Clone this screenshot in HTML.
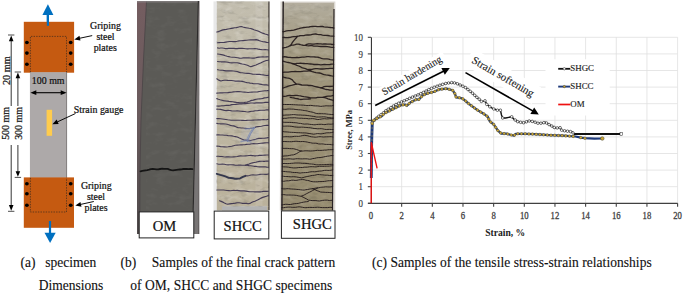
<!DOCTYPE html>
<html><head><meta charset="utf-8"><style>
html,body{margin:0;padding:0;background:#fff;}
body{width:685px;height:294px;overflow:hidden;font-family:"Liberation Serif",serif;}
svg{display:block;}
</style></head><body>
<svg width="685" height="294" viewBox="0 0 685 294">
<rect width="685" height="294" fill="#fff"/>
<defs><linearGradient id="mv" x1="0" y1="0" x2="0" y2="1"><stop offset="0" stop-color="#745d60"/><stop offset="0.5" stop-color="#6a5b5d"/><stop offset="1" stop-color="#4f4a4b"/></linearGradient></defs><polygon points="137,1 199.3,1 199.3,234 137,234" fill="url(#mv)"/><polygon points="146.5,1 198.6,1 192.6,234 139.8,234 140,170 141,120 143.5,60" fill="#5b5a56"/><polyline points="146.5,1 143.5,60 141,120 140,170 139.8,234" fill="none" stroke="#4a4446" stroke-width="0.8"/><rect x="137" y="1" width="62" height="1.5" fill="#8a8488" opacity="0.7"/><line x1="198.4" y1="1" x2="192.6" y2="234" stroke="#2d2b2b" stroke-width="1.2"/><polygon points="198.9,1 199.4,1 198.5,234 193.2,234" fill="#787575"/><defs><filter id="tx" x="0" y="0" width="1" height="1" filterUnits="objectBoundingBox"><feTurbulence type="fractalNoise" baseFrequency="0.09 0.18" numOctaves="3" seed="5"/><feColorMatrix type="matrix" values="0 0 0 0 1  0 0 0 0 1  0 0 0 0 1  1.6 0 0 0 -0.75"/></filter><filter id="tx2" x="0" y="0" width="1" height="1" filterUnits="objectBoundingBox"><feTurbulence type="fractalNoise" baseFrequency="0.1 0.2" numOctaves="3" seed="11"/><feColorMatrix type="matrix" values="0 0 0 0 0  0 0 0 0 0  0 0 0 0 0  -1.6 0 0 0 0.75"/></filter></defs><rect x="146" y="2" width="46" height="230" filter="url(#tx)" opacity="0.063"/><path d="M140.5,171.3 L142.2,170.9 L143.9,170.6 L145.6,170.3 L147.3,170.1 L149.1,169.7 L150.9,169.2 L152.7,168.9 L154.6,169.1 L156.4,169.3 L158.2,169.4 L160.1,169.0 L162.2,168.7 L164.0,168.9 L165.9,168.8 L167.7,168.9 L169.5,169.6 L171.3,170.1 L173.1,170.3 L174.8,170.1 L176.5,169.9 L178.2,169.7 L179.9,169.5 L181.6,169.3 L183.3,169.0 L185.0,168.9 L186.7,169.0 L188.6,169.1 L190.6,169.0 L192.5,169.1" stroke="#151515" stroke-width="1.8" fill="none" stroke-linejoin="round" stroke-linecap="round" opacity="1"/><rect x="213.5" y="1.4" width="56" height="209" fill="#e8e8e8"/><defs><linearGradient id="sc" x1="0" y1="0" x2="0" y2="1"><stop offset="0" stop-color="#c2bdae"/><stop offset="0.5" stop-color="#beb7a3"/><stop offset="1" stop-color="#bab19b"/></linearGradient></defs><rect x="216.8" y="1.4" width="52.5" height="209" fill="url(#sc)"/><rect x="222" y="206.2" width="45" height="4.2" fill="#b3b3b3"/><line x1="268.9" y1="1.4" x2="268.9" y2="210" stroke="#4a4540" stroke-width="1.3"/><rect x="216.8" y="1.4" width="52" height="205" filter="url(#tx)" opacity="0.35"/><rect x="255.5" y="1.4" width="7" height="205" fill="#fff" opacity="0.1"/><rect x="216.8" y="1.4" width="52" height="205" filter="url(#tx2)" opacity="0.21"/><path d="M216.8,32.0 L218.4,31.6 L219.9,31.0 L221.5,30.4 L223.0,29.9 L224.7,29.6 L226.3,29.4 L228.0,29.0 L229.6,28.7 L231.3,28.4 L233.0,28.1 L234.6,27.8 L236.3,27.6 L238.0,27.2 L239.6,26.8 L241.3,26.5 L242.9,27.0 L244.4,27.4 L246.0,27.7 L247.6,28.0 L249.2,28.3 L250.8,28.5 L252.4,29.1 L253.9,29.8 L255.5,30.2 L257.1,30.7 L258.6,31.3 L260.1,32.1 L261.6,32.8 L263.3,33.4 L265.1,34.0 L266.8,34.5 L268.5,35.1" stroke="#3d3550" stroke-width="1.15" fill="none" stroke-linejoin="round" stroke-linecap="round" opacity="0.95"/><path d="M217.5,42.7 L219.2,42.6 L220.9,42.5 L222.6,42.5 L224.3,42.4 L226.0,42.1 L227.7,41.8 L229.6,41.5 L231.5,41.5 L233.4,41.6 L235.3,41.6 L237.2,41.3 L239.1,40.9 L241.0,40.8 L242.9,40.6 L244.8,40.4 L246.7,40.2 L248.6,40.0 L250.5,39.8 L252.4,39.8 L254.3,39.9 L256.2,39.6 L258.0,40.1 L259.6,40.8 L261.3,41.3 L263.0,41.7 L264.8,41.9 L266.7,42.4 L268.5,42.5" stroke="#3d3550" stroke-width="1.15" fill="none" stroke-linejoin="round" stroke-linecap="round" opacity="0.95"/><path d="M217.5,47.9 L219.1,48.2 L220.7,48.0 L222.3,48.0 L223.9,48.3 L225.5,48.6 L227.2,48.6 L228.8,48.4 L230.4,48.3 L232.1,48.3 L233.8,48.4 L235.5,48.6 L237.2,48.6 L238.9,48.4 L240.6,48.3 L242.3,48.4 L244.0,48.5 L245.8,48.7 L247.6,48.9 L249.4,48.8 L251.3,48.7 L253.1,48.7 L254.9,48.6 L256.6,48.7 L258.3,49.1 L260.0,49.4 L261.7,49.6 L263.4,49.7 L265.1,49.6 L266.8,49.7 L268.5,50.0" stroke="#3d3550" stroke-width="1.15" fill="none" stroke-linejoin="round" stroke-linecap="round" opacity="0.95"/><path d="M217.5,54.0 L219.6,54.2 L221.6,54.6 L223.7,55.1 L225.4,55.7 L227.1,56.2 L228.8,56.6 L230.5,57.0 L232.2,57.2 L234.1,57.3 L235.9,57.5 L237.7,57.7 L239.5,58.1 L241.3,58.2 L243.2,57.9 L245.1,57.9 L247.0,57.9 L248.9,57.9 L250.8,58.0 L252.5,58.1 L254.1,58.1 L255.7,57.8 L257.4,57.4 L259.0,57.1 L260.9,57.0 L262.8,56.9 L264.7,57.0 L266.6,56.9 L268.5,56.8" stroke="#3d3550" stroke-width="1.15" fill="none" stroke-linejoin="round" stroke-linecap="round" opacity="0.95"/><path d="M217.5,61.5 L219.3,61.7 L221.0,61.8 L222.8,61.8 L224.6,61.9 L226.3,62.0 L228.1,62.3 L229.9,62.7 L231.7,62.9 L233.6,62.8 L235.4,62.7 L237.2,62.7 L238.9,63.1 L240.6,63.6 L242.3,64.0 L244.0,64.3 L245.7,64.7 L247.4,65.2 L249.0,66.0 L250.8,66.7 L252.6,66.1 L254.3,65.5 L256.0,65.0 L257.6,64.3 L259.3,63.5 L261.0,62.8 L262.6,62.0 L264.3,61.2 L266.3,60.5 L268.5,60.2" stroke="#3d3550" stroke-width="1.15" fill="none" stroke-linejoin="round" stroke-linecap="round" opacity="0.95"/><path d="M217.5,69.7 L219.2,70.0 L220.9,70.2 L222.6,70.3 L224.3,70.6 L226.0,70.9 L227.7,70.9 L229.6,70.8 L231.5,70.8 L233.4,71.0 L235.3,71.2 L237.2,71.5 L238.8,72.1 L240.4,72.6 L242.1,72.8 L243.7,73.0 L245.4,73.3 L247.2,73.4 L249.0,73.4 L250.8,73.7 L252.6,74.1 L254.4,74.2 L256.2,74.3 L258.0,74.3 L259.7,74.4 L261.5,74.7 L263.2,74.9 L265.0,75.2 L266.7,75.5 L268.5,75.4" stroke="#3d3550" stroke-width="1.15" fill="none" stroke-linejoin="round" stroke-linecap="round" opacity="0.95"/><path d="M216.8,78.8 L218.7,80.1 L220.9,81.0 L222.6,80.5 L224.3,80.2 L226.0,80.2 L227.7,80.4 L229.6,80.5 L231.5,80.5 L233.4,80.8 L235.3,81.1 L237.2,81.0 L238.8,81.1 L240.5,81.3 L242.2,81.4 L243.8,81.7 L245.4,82.3 L247.0,82.6 L248.5,82.8 L250.1,83.1 L251.7,83.3 L253.3,83.6 L254.9,83.8 L256.5,83.7 L258.1,83.8 L259.7,84.1 L261.3,84.4 L262.8,84.7 L264.4,84.9 L266.5,84.9 L268.5,85.2" stroke="#3d3550" stroke-width="1.15" fill="none" stroke-linejoin="round" stroke-linecap="round" opacity="0.95"/><path d="M216.8,93.1 L218.6,93.0 L220.4,92.8 L222.3,92.9 L224.1,92.8 L225.9,92.7 L227.7,92.6 L229.6,92.4 L231.5,92.2 L233.4,91.9 L235.3,91.7 L237.2,91.6 L239.0,91.6 L240.8,91.8 L242.7,92.0 L244.5,92.1 L246.3,92.3 L248.1,92.5 L250.0,92.3 L251.9,92.1 L253.8,92.0 L255.7,92.0 L257.6,91.9 L259.4,91.5 L261.2,91.2 L263.0,91.0 L264.9,90.8 L266.7,90.7 L268.5,90.4" stroke="#3d3550" stroke-width="1.15" fill="none" stroke-linejoin="round" stroke-linecap="round" opacity="0.95"/><path d="M216.8,98.6 L218.4,99.3 L220.1,99.8 L221.9,100.2 L223.6,100.6 L225.4,100.9 L227.2,101.1 L229.0,101.4 L230.9,101.6 L232.7,101.8 L234.5,102.1 L236.4,102.4 L238.3,102.5 L240.2,102.7 L242.1,102.7 L244.0,102.6 L245.6,102.3 L247.2,102.1 L248.7,101.6 L250.2,100.9 L251.7,100.4 L253.3,100.1 L254.8,99.6 L256.4,99.3 L258.0,99.0 L259.7,98.9 L261.3,98.8 L262.9,98.4 L264.4,97.9 L266.5,97.6 L268.5,97.2" stroke="#3d3550" stroke-width="1.15" fill="none" stroke-linejoin="round" stroke-linecap="round" opacity="0.95"/><path d="M216.8,106.0 L218.5,106.1 L220.2,106.0 L221.9,105.8 L223.6,105.7 L225.2,105.5 L226.9,105.3 L228.6,105.4 L230.2,105.1 L231.8,104.6 L233.7,104.5 L235.6,104.4 L237.5,104.1 L239.4,103.9 L241.3,103.9 L243.2,103.8 L245.1,103.6 L247.0,103.5 L248.9,103.3 L250.8,103.0 L252.6,103.0 L254.4,103.1 L256.2,102.9 L258.1,102.7 L259.9,102.9 L261.7,102.9 L263.4,102.7 L265.1,102.4 L266.8,102.2 L268.5,102.4" stroke="#3d3550" stroke-width="1.15" fill="none" stroke-linejoin="round" stroke-linecap="round" opacity="0.95"/><path d="M216.8,109.1 L218.7,109.2 L220.6,109.4 L222.5,109.9 L224.4,110.4 L226.3,110.6 L228.1,110.4 L229.9,110.5 L231.7,110.9 L233.6,111.0 L235.4,111.0 L237.2,110.9 L239.0,111.0 L240.8,111.3 L242.7,111.4 L244.5,111.5 L246.3,111.8 L248.1,112.0 L249.9,111.6 L251.7,111.3 L253.5,111.1 L255.4,110.8 L257.2,110.7 L259.0,110.4 L260.9,110.2 L262.8,110.2 L264.7,110.2 L266.6,109.8 L268.5,109.8" stroke="#3d3550" stroke-width="1.15" fill="none" stroke-linejoin="round" stroke-linecap="round" opacity="0.95"/><path d="M216.8,118.6 L218.6,118.6 L220.5,118.8 L222.3,119.0 L224.1,119.2 L225.9,119.5 L227.7,119.8 L229.4,120.0 L231.1,120.2 L232.8,120.2 L234.5,120.2 L236.2,120.2 L237.9,120.2 L239.6,120.2 L241.3,120.3 L243.0,120.3 L244.7,120.5 L246.4,120.4 L248.1,120.2 L249.8,120.2 L251.5,120.3 L253.2,120.1 L254.9,120.0 L256.6,120.0 L258.3,119.9 L260.0,119.9 L261.7,119.7 L263.4,119.6 L265.1,119.7 L266.8,119.6 L268.5,119.3" stroke="#3d3550" stroke-width="1.15" fill="none" stroke-linejoin="round" stroke-linecap="round" opacity="0.95"/><path d="M216.8,123.4 L218.5,123.7 L220.2,123.8 L221.9,123.8 L223.6,123.8 L225.4,124.0 L227.1,124.3 L228.7,124.8 L230.4,125.4 L232.0,125.7 L233.6,125.9 L235.1,126.4 L236.6,127.1 L238.1,127.6 L239.7,127.8 L241.3,128.0 L242.9,128.0 L244.6,128.2 L246.2,128.4 L247.8,128.5 L249.4,128.6 L251.1,128.3 L252.9,128.1 L254.6,127.6 L256.2,126.9 L258.0,126.6 L259.7,126.5 L261.5,126.2 L263.2,125.8 L265.0,125.5 L266.7,125.4 L268.5,125.4" stroke="#3d3550" stroke-width="1.15" fill="none" stroke-linejoin="round" stroke-linecap="round" opacity="0.95"/><path d="M216.8,134.9 L218.7,134.9 L220.6,135.0 L222.5,135.0 L224.4,135.2 L226.3,135.3 L228.1,135.6 L230.0,135.7 L231.8,135.9 L233.6,136.3 L235.4,136.6 L237.2,137.0 L238.9,137.8 L240.5,138.5 L242.2,139.2 L243.9,139.9 L245.7,140.1 L247.4,140.0 L249.1,140.2 L250.8,140.5 L252.4,140.0 L254.1,139.6 L255.7,139.2 L257.3,138.6 L259.0,138.4 L260.9,138.4 L262.8,138.2 L264.7,138.1 L266.6,137.9 L268.5,137.6" stroke="#3d3550" stroke-width="1.15" fill="none" stroke-linejoin="round" stroke-linecap="round" opacity="0.95"/><path d="M216.8,146.1 L218.7,146.3 L220.6,146.6 L222.5,146.8 L224.4,146.9 L226.3,147.0 L228.1,146.8 L230.0,146.5 L231.8,146.2 L233.5,145.7 L235.3,145.3 L237.2,145.1 L239.0,145.0 L240.8,144.8 L242.7,144.8 L244.5,144.7 L246.3,144.4 L248.1,144.2 L249.9,144.1 L251.7,143.8 L253.5,143.6 L255.4,143.7 L257.2,143.7 L259.0,143.5 L260.9,143.3 L262.8,143.1 L264.7,142.9 L266.6,142.8 L268.5,142.7" stroke="#3d3550" stroke-width="1.15" fill="none" stroke-linejoin="round" stroke-linecap="round" opacity="0.95"/><path d="M216.8,156.3 L218.5,156.2 L220.2,156.5 L221.9,156.5 L223.6,156.8 L225.3,157.0 L227.0,156.9 L228.7,156.9 L230.4,157.0 L232.1,157.0 L233.8,156.9 L235.5,156.8 L237.2,156.5 L238.9,156.1 L240.6,155.9 L242.3,156.0 L244.0,156.0 L245.7,155.9 L247.4,155.8 L249.1,155.5 L250.8,155.4 L252.5,155.6 L254.2,155.8 L255.9,155.8 L257.6,155.7 L259.4,155.4 L261.2,155.4 L263.0,155.3 L264.9,155.1 L266.7,155.0 L268.5,155.0" stroke="#3d3550" stroke-width="1.15" fill="none" stroke-linejoin="round" stroke-linecap="round" opacity="0.95"/><path d="M216.8,163.8 L218.7,164.2 L220.6,164.3 L222.5,164.1 L224.4,164.3 L226.3,164.7 L228.1,164.9 L229.9,164.8 L231.8,164.7 L233.6,164.9 L235.4,165.2 L237.2,165.2 L238.8,165.1 L240.5,165.1 L242.1,165.2 L243.8,165.3 L245.4,165.2 L247.2,164.6 L249.1,164.0 L250.9,163.3 L252.5,162.9 L254.2,162.5 L255.9,162.2 L257.6,161.8 L259.4,161.4 L261.2,161.2 L263.0,161.3 L264.9,161.3 L266.7,161.0 L268.5,161.1" stroke="#3d3550" stroke-width="1.15" fill="none" stroke-linejoin="round" stroke-linecap="round" opacity="0.95"/><path d="M245.4,165.2 L247.1,165.3 L248.9,165.6 L250.6,165.7 L252.4,166.0 L254.1,166.3 L255.9,166.3 L257.6,166.7 L259.4,166.9 L261.2,166.9 L263.1,166.8 L264.9,166.8 L266.7,167.1 L268.5,167.2" stroke="#3d3550" stroke-width="1.15" fill="none" stroke-linejoin="round" stroke-linecap="round" opacity="0.95"/><path d="M216.8,190.0 L218.5,190.0 L220.2,190.0 L221.9,190.0 L223.6,190.0 L225.3,190.2 L227.0,190.5 L228.7,190.6 L230.4,190.7 L232.1,190.5 L233.8,190.4 L235.5,190.5 L237.2,190.4 L238.9,190.6 L240.6,190.9 L242.3,190.9 L244.0,190.9 L245.8,191.1 L247.6,191.4 L249.4,191.6 L251.2,191.7 L253.1,191.8 L254.9,191.9 L256.6,191.9 L258.3,191.9 L260.0,191.9 L261.7,191.7 L263.4,191.4 L265.1,191.3 L266.8,191.4 L268.5,191.3" stroke="#3d3550" stroke-width="1.15" fill="none" stroke-linejoin="round" stroke-linecap="round" opacity="0.95"/><path d="M219.5,200.8 L221.2,201.4 L222.8,202.1 L224.4,203.0 L226.0,203.7 L227.7,204.2 L229.6,203.9 L231.5,203.6 L233.4,203.4 L235.3,203.1 L237.2,202.7 L239.0,202.7 L240.8,203.0 L242.6,203.4 L244.5,203.4 L246.3,203.4 L248.1,203.8 L249.9,203.4 L251.5,202.6 L253.1,201.8 L254.8,201.2 L256.4,200.5 L258.0,199.7 L259.5,198.9 L261.1,198.1 L262.7,197.4 L264.4,196.9 L266.5,196.3 L268.5,195.4" stroke="#3d3550" stroke-width="1.15" fill="none" stroke-linejoin="round" stroke-linecap="round" opacity="0.95"/><path d="M216.8,173.8 L218.5,174.3 L220.3,174.9 L222.0,175.4 L223.7,175.9 L225.4,176.4 L227.1,177.1 L228.7,177.9 L230.8,178.0 L232.9,178.3 L235.0,178.7 L236.7,178.8 L238.3,178.6 L239.9,178.5 L241.4,177.7 L242.9,176.9 L245.5,175.8" stroke="#262a44" stroke-width="1.9" fill="none" stroke-linejoin="round" stroke-linecap="round" opacity="0.9"/><path d="M245.5,175.8 L247.4,175.9 L249.3,175.5 L251.1,175.0 L253.0,174.7 L254.8,175.0 L256.5,175.0 L258.3,174.7 L260.0,174.4 L261.7,174.2 L263.4,174.2 L265.1,174.4 L266.8,174.4 L268.5,174.0" stroke="#3d3550" stroke-width="1.1" fill="none" stroke-linejoin="round" stroke-linecap="round" opacity="0.9"/><ellipse cx="250" cy="134" rx="9" ry="10" fill="#a9b1c9" opacity="0.15"/><path d="M254.5,127.7 L250.5,134.0 L247.3,141.5" stroke="#7585b0" stroke-width="1.1" fill="none" stroke-linejoin="round" stroke-linecap="round" opacity="0.85"/><path d="M253.0,128.2 L249.5,133.5 L246.8,139.4" stroke="#7d8fb8" stroke-width="1.0" fill="none" stroke-linejoin="round" stroke-linecap="round" opacity="0.8"/><path d="M245.3,129.2 L250.0,128.5 L254.5,127.7" stroke="#7d8fb8" stroke-width="1.0" fill="none" stroke-linejoin="round" stroke-linecap="round" opacity="0.7"/><path d="M241.0,141.5 L246.0,140.5 L251.0,142.0" stroke="#6a7aa8" stroke-width="1.3" fill="none" stroke-linejoin="round" stroke-linecap="round" opacity="0.6"/><polygon points="280.5,1.5 335.4,1.5 335.3,210.5 279.8,210.5" fill="#dcd8d2"/><defs><linearGradient id="gg" x1="0" y1="0" x2="0" y2="1"><stop offset="0" stop-color="#b3ad9e"/><stop offset="0.1" stop-color="#aaa38f"/><stop offset="0.3" stop-color="#a0977d"/><stop offset="0.6" stop-color="#9a9075"/><stop offset="1" stop-color="#968c70"/></linearGradient></defs><polygon points="283.2,2.8 334.0,2.8 332.5,210.5 281.9,210.5" fill="url(#gg)"/><line x1="283.2" y1="1.4" x2="281.9" y2="210.5" stroke="#2a2424" stroke-width="1.5"/><line x1="334.0" y1="9" x2="332.5" y2="210.5" stroke="#2a2424" stroke-width="1.2"/><rect x="283.5" y="3" width="48.5" height="207" filter="url(#tx)" opacity="0.21"/><rect x="283.5" y="3" width="48.5" height="207" filter="url(#tx2)" opacity="0.175"/><path d="M283.0,31.7 L284.8,31.4 L286.6,30.9 L288.4,30.7 L290.2,30.7 L291.9,30.4 L293.7,30.1 L295.4,29.6 L297.0,29.1 L298.7,28.7 L300.4,28.2 L302.1,27.8 L303.8,27.5 L305.5,27.3 L307.2,27.1 L308.9,27.0 L310.6,26.7 L312.3,26.5 L314.0,26.3 L315.7,26.4 L317.4,26.7 L319.1,26.6 L320.8,26.4 L322.5,26.5 L324.1,26.9 L325.7,27.1 L327.3,27.2 L328.9,27.3 L330.6,27.5 L332.2,27.6 L333.8,28.0" stroke="#261c1e" stroke-width="1.3" fill="none" stroke-linejoin="round" stroke-linecap="round" opacity="0.95"/><path d="M283.0,37.3 L284.8,37.5 L286.6,37.6 L288.4,37.5 L290.2,37.3 L291.9,36.9 L293.7,36.7 L295.6,36.7 L297.3,36.5 L298.9,36.0 L300.5,35.6 L302.2,35.6 L303.9,35.6 L305.5,35.2 L307.2,35.0 L308.9,35.0 L310.6,34.9 L312.3,34.4 L314.0,34.1 L315.7,34.0 L317.4,34.4 L319.1,34.6 L320.8,34.7 L322.5,35.1 L324.2,35.3 L325.9,35.3 L327.9,35.5 L329.8,35.9 L331.8,36.1 L333.8,36.2" stroke="#261c1e" stroke-width="1.3" fill="none" stroke-linejoin="round" stroke-linecap="round" opacity="0.95"/><path d="M297.3,36.3 L296.4,37.7 L295.3,38.8 L294.2,40.1 L293.2,41.3 L292.2,42.7 L291.4,44.3 L290.3,45.7 L288.2,46.6 L286.0,47.4 L284.5,47.6 L282.9,48.0" stroke="#261c1e" stroke-width="1.3" fill="none" stroke-linejoin="round" stroke-linecap="round" opacity="0.95"/><path d="M290.2,45.5 L291.8,45.2 L293.5,45.1 L295.1,44.7 L296.7,44.2 L298.4,44.1 L300.1,44.5 L301.8,45.0 L303.5,45.3 L305.2,45.4 L306.9,45.7 L308.6,45.8 L310.3,45.6 L312.1,45.7 L313.8,46.1 L315.6,46.2 L317.3,46.1 L319.1,46.3 L320.8,46.5 L322.4,46.5 L324.0,46.5 L325.7,46.5 L327.3,46.6 L328.9,46.8 L330.5,47.2 L332.1,47.4 L333.7,47.4" stroke="#261c1e" stroke-width="1.3" fill="none" stroke-linejoin="round" stroke-linecap="round" opacity="0.95"/><path d="M306.0,44.6 L308.6,43.8 L310.3,43.8 L312.1,44.1 L313.8,44.1 L315.6,43.8 L317.3,43.7 L319.1,43.8 L320.8,43.9 L322.4,44.1 L324.0,44.0 L325.6,44.0 L327.2,44.2 L328.9,44.1 L330.5,44.2 L332.1,44.5 L333.7,44.4" stroke="#261c1e" stroke-width="1.3" fill="none" stroke-linejoin="round" stroke-linecap="round" opacity="0.95"/><path d="M282.8,57.0 L284.6,56.7 L286.4,57.0 L288.2,57.3 L290.0,57.4 L291.7,57.6 L293.5,57.7 L295.3,57.6 L297.0,57.5 L298.7,57.6 L300.4,57.4 L302.1,57.2 L303.8,57.1 L305.5,56.9 L307.1,56.6 L308.8,56.6 L310.4,56.8 L312.1,56.9 L313.7,56.8 L315.4,57.0 L317.3,57.1 L319.1,57.5 L320.8,58.1 L322.4,58.6 L324.0,58.9 L325.6,58.8 L327.2,58.9 L328.8,59.2 L330.4,59.6 L332.0,59.9 L333.6,60.0" stroke="#261c1e" stroke-width="1.3" fill="none" stroke-linejoin="round" stroke-linecap="round" opacity="0.95"/><path d="M282.8,61.1 L284.6,61.7 L286.5,62.2 L288.3,62.5 L290.2,62.8 L291.9,63.3 L293.7,63.9 L295.3,64.7 L296.9,65.4 L298.7,66.0 L300.3,66.7 L301.9,67.6 L303.6,68.2 L305.4,68.6 L307.1,69.3 L308.9,70.1 L310.6,70.8 L312.3,71.6 L314.1,72.2 L315.9,72.6 L317.8,72.8 L319.5,73.0 L321.1,73.4 L322.7,74.1 L324.3,74.6 L325.9,74.9 L327.8,75.1 L329.7,75.5 L331.6,75.9 L333.5,76.2" stroke="#261c1e" stroke-width="1.3" fill="none" stroke-linejoin="round" stroke-linecap="round" opacity="0.95"/><path d="M292.2,63.7 L293.9,63.8 L295.5,63.6 L297.1,63.3 L298.8,63.3 L300.4,63.2 L302.1,63.3 L303.8,63.5 L305.5,63.7 L307.2,63.7 L308.9,63.8 L310.6,64.0 L312.3,64.2 L314.0,64.5 L315.7,64.5 L317.4,64.4 L319.1,64.6 L320.8,64.9 L322.6,64.7 L324.4,64.5 L326.3,64.6 L328.1,64.7 L329.9,64.5 L331.7,64.2 L333.6,64.2" stroke="#261c1e" stroke-width="1.3" fill="none" stroke-linejoin="round" stroke-linecap="round" opacity="0.95"/><path d="M308.6,69.3 L310.4,69.5 L312.1,69.3 L313.8,68.9 L315.6,68.7 L317.3,68.7 L319.1,68.8 L320.8,69.0 L322.6,69.0 L324.4,68.8 L326.3,68.7 L328.1,68.6 L329.9,68.4 L331.7,68.3 L333.5,68.3" stroke="#261c1e" stroke-width="1.3" fill="none" stroke-linejoin="round" stroke-linecap="round" opacity="0.95"/><path d="M282.8,72.3 L284.5,72.2 L286.3,72.1 L288.1,72.1 L289.9,71.9 L291.7,71.7 L293.5,71.6 L295.3,71.5 L297.0,71.6 L298.7,71.7 L300.4,71.6 L302.1,71.3 L303.8,71.1 L305.5,71.2 L307.2,71.1 L308.9,70.8 L310.6,70.8" stroke="#261c1e" stroke-width="1.3" fill="none" stroke-linejoin="round" stroke-linecap="round" opacity="0.95"/><path d="M282.7,76.9 L284.6,77.5 L286.5,77.9 L288.4,78.2 L290.3,78.7 L292.3,79.9 L293.5,81.4 L294.9,82.7 L296.3,84.1" stroke="#261c1e" stroke-width="1.3" fill="none" stroke-linejoin="round" stroke-linecap="round" opacity="0.95"/><path d="M282.7,88.2 L284.5,87.5 L286.4,86.9 L288.3,86.1 L290.2,85.6 L292.3,85.2 L294.3,84.6 L296.3,84.1 L298.1,84.2 L300.0,84.5 L301.8,85.0 L303.6,85.2 L305.5,85.1 L307.2,85.2 L308.8,85.5 L310.4,85.5 L312.1,85.7 L313.7,86.2 L315.4,86.6 L317.2,87.0 L319.0,87.4 L320.8,87.8 L322.5,87.3 L324.1,86.7 L325.9,86.3 L327.8,86.4 L329.7,86.5 L331.5,86.3 L333.4,86.1" stroke="#261c1e" stroke-width="1.3" fill="none" stroke-linejoin="round" stroke-linecap="round" opacity="0.95"/><path d="M320.8,87.7 L322.5,88.3 L324.2,88.9 L325.9,89.5 L327.8,89.7 L329.6,90.0 L331.5,90.2 L333.4,90.2" stroke="#261c1e" stroke-width="1.3" fill="none" stroke-linejoin="round" stroke-linecap="round" opacity="0.95"/><path d="M282.6,96.3 L284.4,96.4 L286.2,96.2 L287.9,95.7 L289.7,95.5 L291.5,95.7 L293.3,95.6 L295.1,95.4 L296.9,95.4 L298.6,95.7 L300.4,95.9 L302.1,96.3 L303.8,96.7 L305.5,96.9 L307.2,97.2 L308.9,97.5 L310.6,97.8 L312.4,97.8 L314.1,97.9 L315.9,97.8 L317.6,97.4 L319.4,97.3 L321.1,97.3 L322.9,97.3 L324.6,96.8 L326.3,96.4 L328.1,96.2 L329.9,96.1 L331.6,95.8 L333.3,95.3" stroke="#261c1e" stroke-width="1.3" fill="none" stroke-linejoin="round" stroke-linecap="round" opacity="0.95"/><path d="M290.2,97.3 L291.9,97.7 L293.6,97.9 L295.3,98.3 L297.0,98.6 L298.7,99.0 L300.4,99.5 L302.1,99.3 L303.8,99.2 L305.5,99.1 L307.2,99.1 L308.9,99.0 L310.6,98.9" stroke="#261c1e" stroke-width="1.3" fill="none" stroke-linejoin="round" stroke-linecap="round" opacity="0.95"/><path d="M322.9,97.3 L324.6,97.7 L326.4,98.2 L328.0,98.8 L329.8,99.4 L331.5,99.8 L333.3,100.4" stroke="#261c1e" stroke-width="1.3" fill="none" stroke-linejoin="round" stroke-linecap="round" opacity="0.95"/><path d="M282.6,104.5 L284.4,104.5 L286.2,104.5 L288.0,104.5 L289.8,104.5 L291.7,104.6 L293.5,104.7 L295.3,104.8 L297.0,104.9 L298.6,105.0 L300.3,105.0 L302.0,105.1 L303.6,105.2 L305.3,105.4 L306.9,105.6 L308.6,105.5 L310.4,105.4 L312.1,105.5 L313.8,105.8 L315.6,105.9 L317.3,105.9 L319.0,106.1 L320.8,106.4 L322.6,106.2 L324.4,106.0 L326.1,105.8 L327.9,105.9 L329.7,105.9 L331.5,105.9 L333.3,105.5" stroke="#261c1e" stroke-width="1.0" fill="none" stroke-linejoin="round" stroke-linecap="round" opacity="0.95"/><path d="M282.5,109.1 L284.3,109.3 L286.1,109.3 L287.9,109.0 L289.7,109.0 L291.5,109.1 L293.3,109.1 L295.1,109.4 L296.9,109.6 L298.7,109.8 L300.6,109.9 L302.4,110.2 L304.2,110.5 L305.8,110.7 L307.4,111.0 L308.9,111.5 L310.5,111.8 L312.1,112.1 L313.6,112.5 L315.1,113.1 L316.7,113.5 L318.4,113.7 L320.0,113.7 L321.7,113.7 L323.3,113.8 L325.0,113.8 L326.6,114.0 L328.3,114.2 L329.9,114.3 L331.5,114.5 L333.2,114.5" stroke="#261c1e" stroke-width="1.0" fill="none" stroke-linejoin="round" stroke-linecap="round" opacity="0.95"/><path d="M282.5,115.2 L284.3,115.2 L286.1,115.0 L287.9,115.0 L289.7,114.9 L291.5,114.7 L293.3,114.6 L295.1,114.7 L296.9,114.9 L298.7,115.0 L300.6,115.0 L302.4,115.2 L304.2,115.2 L306.0,115.3 L307.8,115.6 L309.7,115.8 L311.5,116.1 L313.3,116.4 L315.1,116.7 L316.7,117.0 L318.4,117.0 L320.0,117.0 L321.7,116.9 L323.3,116.8 L325.0,116.9 L326.6,117.2 L328.2,117.5 L329.9,117.7 L331.5,117.9 L333.2,117.9" stroke="#261c1e" stroke-width="1.0" fill="none" stroke-linejoin="round" stroke-linecap="round" opacity="0.95"/><path d="M282.5,118.6 L284.2,118.3 L286.0,118.3 L287.7,118.0 L289.4,117.8 L291.2,117.8 L292.9,117.8 L294.7,117.7 L296.5,117.9 L298.2,118.1 L299.9,118.2 L301.7,118.2 L303.4,118.4 L305.2,118.4 L306.9,118.5 L308.7,118.8 L310.5,118.7 L312.4,118.6 L314.2,118.8 L316.0,119.2 L317.8,119.6 L319.5,119.4 L321.2,119.1 L322.9,118.8 L324.6,118.7 L326.3,118.9 L328.0,118.9 L329.7,118.7 L331.5,118.7 L333.2,118.6" stroke="#261c1e" stroke-width="1.0" fill="none" stroke-linejoin="round" stroke-linecap="round" opacity="0.95"/><path d="M282.4,122.0 L284.2,122.3 L286.1,122.3 L287.9,122.4 L289.7,122.4 L291.5,122.5 L293.3,122.6 L295.1,122.7 L297.0,122.9 L298.8,123.3 L300.6,123.4 L302.4,123.8 L304.2,124.1 L306.0,124.0 L307.8,124.0 L309.7,124.3 L311.5,124.5 L313.3,124.7 L315.1,124.8 L316.7,124.5 L318.4,124.4 L320.0,124.3 L321.6,124.3 L323.3,124.5 L324.9,124.6 L326.6,124.3 L328.2,124.1 L329.9,124.2 L331.5,124.2 L333.1,124.0" stroke="#261c1e" stroke-width="1.0" fill="none" stroke-linejoin="round" stroke-linecap="round" opacity="0.95"/><path d="M282.4,126.1 L284.2,126.2 L285.9,126.1 L287.7,126.1 L289.5,126.2 L291.2,126.3 L293.0,126.6 L294.7,126.9 L296.4,127.1 L298.2,127.2 L299.9,127.2 L301.7,127.1 L303.4,127.2 L305.2,127.4 L306.9,127.5 L308.7,127.7 L310.5,127.8 L312.3,128.2 L314.1,128.5 L316.0,128.6 L317.8,128.8 L319.5,128.7 L321.2,128.7 L322.9,128.9 L324.6,129.3 L326.3,129.5 L328.0,129.4 L329.7,129.4 L331.4,129.5 L333.1,129.5" stroke="#261c1e" stroke-width="1.0" fill="none" stroke-linejoin="round" stroke-linecap="round" opacity="0.95"/><path d="M282.4,131.5 L284.2,131.8 L286.0,131.9 L287.8,132.0 L289.6,132.2 L291.5,132.3 L293.3,132.4 L295.1,132.5 L296.9,132.7 L298.7,132.7 L300.6,132.8 L302.4,132.9 L304.2,132.9 L306.1,133.0 L308.0,133.3 L309.9,133.6 L311.8,133.9 L313.7,134.2 L315.5,133.9 L317.3,133.6 L319.1,133.7 L321.0,133.9 L322.8,133.6 L324.6,133.3 L326.2,132.9 L327.9,132.8 L329.7,132.8 L331.4,132.6 L333.1,132.2" stroke="#261c1e" stroke-width="1.0" fill="none" stroke-linejoin="round" stroke-linecap="round" opacity="0.95"/><path d="M282.4,137.0 L284.1,136.8 L285.9,136.7 L287.6,136.7 L289.4,136.8 L291.2,136.8 L292.9,136.6 L294.7,136.3 L296.6,136.3 L298.5,136.4 L300.4,136.1 L302.3,135.6 L304.2,135.3 L306.1,135.5 L307.9,135.8 L309.6,136.4 L311.4,136.8 L313.3,137.0 L315.1,137.2 L316.7,137.1 L318.4,136.8 L320.0,136.7 L321.6,136.8 L323.3,137.0 L324.9,136.9 L326.5,136.8 L328.1,136.8 L329.8,136.7 L331.4,136.7 L333.0,137.0" stroke="#261c1e" stroke-width="1.0" fill="none" stroke-linejoin="round" stroke-linecap="round" opacity="0.95"/><path d="M282.3,141.6 L284.2,141.5 L286.0,141.6 L287.8,141.7 L289.6,141.7 L291.5,141.7 L293.3,141.5 L295.1,141.3 L296.9,141.3 L298.8,141.5 L300.6,141.6 L302.4,141.5 L304.2,141.6 L305.8,141.8 L307.4,142.1 L308.9,142.5 L310.5,142.7 L312.1,143.1 L313.7,143.2 L315.3,143.2 L316.9,143.4 L318.5,143.9 L320.1,144.0 L321.7,143.9 L323.3,144.0 L324.9,144.3 L326.5,144.4 L328.2,144.4 L329.8,144.5 L331.4,144.7 L333.0,144.8" stroke="#261c1e" stroke-width="1.0" fill="none" stroke-linejoin="round" stroke-linecap="round" opacity="0.95"/><path d="M282.3,148.2 L284.1,148.4 L286.0,148.3 L287.8,148.4 L289.6,148.6 L291.5,148.7 L293.3,148.7 L295.0,149.1 L296.6,149.5 L298.2,150.1 L299.8,150.7 L301.5,151.1 L303.3,151.0 L305.1,150.8 L306.9,150.8 L308.8,150.9 L310.6,151.0 L312.4,150.9 L314.1,150.8 L315.8,150.5 L317.5,150.3 L319.2,150.4 L321.0,150.4 L322.7,150.3 L324.4,150.1 L326.1,150.1 L327.8,149.8 L329.5,149.7 L331.2,149.7 L332.9,149.5" stroke="#261c1e" stroke-width="1.0" fill="none" stroke-linejoin="round" stroke-linecap="round" opacity="0.95"/><path d="M301.5,150.9 L299.8,151.6 L298.3,152.6 L296.7,153.5 L295.0,154.3 L293.3,154.9 L291.4,155.0 L289.6,155.4 L287.8,155.8 L285.9,155.9 L284.1,156.0 L282.2,156.3" stroke="#261c1e" stroke-width="1.0" fill="none" stroke-linejoin="round" stroke-linecap="round" opacity="0.95"/><path d="M282.2,159.0 L283.9,159.0 L285.6,159.1 L287.3,158.9 L289.0,158.8 L290.7,158.9 L292.3,159.1 L294.0,159.1 L295.7,158.8 L297.4,158.7 L299.1,158.8 L300.8,158.9 L302.5,158.9 L304.2,158.8 L305.9,158.8 L307.6,158.9 L309.3,159.2 L311.0,159.1 L312.8,158.6 L314.6,158.4 L316.4,157.9 L318.3,157.6 L320.1,157.6 L321.9,157.3 L323.8,156.9 L325.6,156.5 L327.4,156.2 L329.2,156.0 L331.0,155.6 L332.9,155.6" stroke="#261c1e" stroke-width="1.0" fill="none" stroke-linejoin="round" stroke-linecap="round" opacity="0.95"/><path d="M282.2,163.8 L284.0,163.4 L285.9,163.5 L287.8,163.6 L289.6,163.5 L291.5,163.3 L293.3,163.2 L295.1,163.0 L296.9,163.0 L298.8,163.0 L300.6,163.1 L302.4,163.3 L304.2,163.3 L306.0,163.4 L307.8,163.6 L309.6,163.9 L311.5,164.0 L313.3,164.2 L315.1,164.6 L316.7,164.8 L318.3,164.8 L319.9,164.7 L321.5,164.7 L323.2,164.7 L324.8,164.6 L326.4,164.5 L328.0,164.4 L329.6,164.4 L331.2,164.3 L332.8,164.5" stroke="#261c1e" stroke-width="1.0" fill="none" stroke-linejoin="round" stroke-linecap="round" opacity="0.95"/><path d="M282.2,166.5 L283.7,166.9 L285.3,166.9 L287.0,167.0 L288.5,167.2 L290.1,167.5 L291.7,167.7 L293.3,167.9 L295.1,167.9 L296.9,167.8 L298.7,167.5 L300.6,167.5 L302.4,167.5 L304.2,167.2 L305.9,167.2 L307.6,167.1 L309.3,166.8 L311.0,166.7 L312.7,166.7 L314.4,166.8 L316.1,166.9 L317.8,166.5 L319.5,166.3 L321.1,166.3 L322.8,166.4 L324.5,166.3 L326.2,166.2 L327.8,166.2 L329.5,166.1 L331.2,165.9 L332.8,165.8" stroke="#261c1e" stroke-width="1.0" fill="none" stroke-linejoin="round" stroke-linecap="round" opacity="0.95"/><path d="M282.1,171.3 L283.8,171.5 L285.5,171.6 L287.2,171.8 L288.9,171.9 L290.6,172.0 L292.5,172.4 L294.4,172.5 L296.3,172.5 L298.2,172.8 L300.1,173.1 L301.9,172.8 L303.7,172.7 L305.5,172.6 L307.4,172.5 L309.2,172.1 L311.0,171.8 L312.7,171.7 L314.4,171.8 L316.1,171.7 L317.8,171.3 L319.5,171.1 L321.2,171.0 L322.9,170.7 L324.6,170.4 L326.2,170.3 L327.9,170.4 L329.5,170.4 L331.2,170.2 L332.8,169.9" stroke="#261c1e" stroke-width="1.0" fill="none" stroke-linejoin="round" stroke-linecap="round" opacity="0.95"/><path d="M282.1,176.2 L283.7,176.3 L285.3,176.5 L286.9,176.5 L288.5,176.6 L290.1,176.8 L291.7,176.8 L293.3,176.7 L295.0,176.8 L296.6,177.0 L298.2,177.3 L299.9,177.6 L301.5,177.9 L303.1,177.6 L304.7,177.1 L306.2,176.7 L307.8,176.4 L309.4,176.1 L310.9,175.7 L312.7,175.4 L314.4,175.3 L316.1,174.9 L317.8,174.5 L319.5,174.6 L321.1,174.8 L322.8,174.9 L324.4,175.1 L326.1,175.2 L327.8,175.2 L329.4,175.5 L331.1,175.5 L332.8,175.4" stroke="#261c1e" stroke-width="1.0" fill="none" stroke-linejoin="round" stroke-linecap="round" opacity="0.95"/><path d="M282.1,181.1 L283.7,181.3 L285.3,181.0 L286.9,180.8 L288.5,180.8 L290.1,180.6 L291.7,180.2 L293.3,180.2 L295.1,180.4 L296.9,180.3 L298.7,179.9 L300.5,179.7 L302.4,179.6 L304.2,179.7 L305.8,180.2 L307.4,180.4 L309.0,180.7 L310.5,181.3 L312.1,181.6 L313.7,181.8 L315.5,181.8 L317.3,181.8 L319.2,181.6 L321.0,181.6 L322.8,181.5 L324.6,181.4 L326.2,181.1 L327.8,180.8 L329.5,180.7 L331.1,180.7 L332.7,180.4" stroke="#261c1e" stroke-width="1.0" fill="none" stroke-linejoin="round" stroke-linecap="round" opacity="0.95"/><path d="M282.0,188.6 L283.6,188.9 L285.2,188.9 L286.9,188.7 L288.5,188.7 L290.1,188.9 L291.7,189.0 L293.3,189.1 L295.1,189.2 L296.9,189.4 L298.8,189.6 L300.6,189.8 L302.4,190.0 L304.2,190.1 L305.8,189.7 L307.5,189.5 L309.1,189.2 L310.8,188.9 L312.4,188.8 L314.0,188.5 L315.6,188.1 L317.2,187.9 L318.7,187.8 L320.3,187.4 L321.9,187.2 L323.7,187.1 L325.5,186.8 L327.3,186.9 L329.1,187.0 L330.9,186.9 L332.7,186.6" stroke="#261c1e" stroke-width="1.0" fill="none" stroke-linejoin="round" stroke-linecap="round" opacity="0.95"/><path d="M312.4,188.6 L314.0,189.4 L315.6,190.0 L317.2,190.7 L318.9,191.3 L320.5,192.0 L322.2,192.2 L324.0,192.2 L325.7,192.4 L327.4,192.4 L329.2,192.5 L330.9,192.7 L332.6,192.7" stroke="#261c1e" stroke-width="1.0" fill="none" stroke-linejoin="round" stroke-linecap="round" opacity="0.95"/><path d="M282.0,194.7 L283.6,194.6 L285.2,194.8 L286.8,195.0 L288.5,195.0 L290.1,195.0 L291.7,195.1 L293.3,195.1 L294.9,195.2 L296.6,195.4 L298.2,195.8 L299.8,196.1 L301.4,196.3 L303.1,197.2 L304.9,198.1 L306.7,199.0 L308.3,200.1 L310.2,200.3 L312.1,200.6 L314.0,200.6 L315.9,200.6 L317.8,200.9 L319.5,201.0 L321.1,200.7 L322.7,200.4 L324.4,200.2 L326.0,200.1 L327.6,200.2 L329.3,200.5 L330.9,200.4 L332.6,200.2" stroke="#261c1e" stroke-width="1.0" fill="none" stroke-linejoin="round" stroke-linecap="round" opacity="0.95"/><path d="M301.5,196.1 L303.2,195.5 L304.7,194.7 L306.3,193.8 L307.9,193.0 L309.5,192.2 L311.1,191.4 L312.7,190.5 L314.4,189.6 L316.1,188.8 L317.8,187.9" stroke="#261c1e" stroke-width="1.0" fill="none" stroke-linejoin="round" stroke-linecap="round" opacity="0.95"/><path d="M281.9,204.9 L283.6,204.6 L285.4,204.3 L287.1,204.3 L288.9,204.5 L290.6,204.5 L292.5,204.1 L294.4,203.7 L296.3,203.6 L298.2,203.4 L300.1,202.9 L301.7,202.5 L303.4,202.2 L305.0,201.9 L306.6,201.7 L308.3,201.5" stroke="#261c1e" stroke-width="1.0" fill="none" stroke-linejoin="round" stroke-linecap="round" opacity="0.95"/><path d="M281.9,207.6 L283.6,207.7 L285.4,207.4 L287.1,207.2 L288.8,207.1 L290.5,207.1 L292.2,207.3 L294.0,207.3 L295.7,207.3 L297.4,207.0 L299.1,206.8 L300.8,207.0 L302.5,207.3 L304.2,207.6 L305.9,207.7 L307.6,207.5 L309.3,207.4 L311.0,207.4 L312.7,207.5 L314.3,207.4 L316.0,207.3 L317.6,207.2 L319.3,207.3 L320.9,207.5 L322.6,207.6 L324.2,207.6 L325.9,207.6 L327.6,207.6 L329.2,207.4 L330.9,207.3 L332.5,207.6" stroke="#261c1e" stroke-width="1.0" fill="none" stroke-linejoin="round" stroke-linecap="round" opacity="0.95"/><rect x="139.2" y="211.9" width="54.6" height="26" fill="#fff" stroke="#222" stroke-width="1"/><text transform="translate(152.8,230.6) scale(1,1.05)" font-family="Liberation Serif" font-size="14.6" font-weight="normal" fill="#111" stroke="#111" stroke-width="0.22" text-anchor="start">OM</text><rect x="214.2" y="211.1" width="54.6" height="27.8" fill="#fff" stroke="#222" stroke-width="1"/><text transform="translate(223.6,230.6) scale(1,1.05)" font-family="Liberation Serif" font-size="14.6" font-weight="normal" fill="#111" stroke="#111" stroke-width="0.22" text-anchor="start">SHCC</text><rect x="281.4" y="210.9" width="53.6" height="27.4" fill="#fff" stroke="#222" stroke-width="1"/><text transform="translate(292.8,229.4) scale(1,1.05)" font-family="Liberation Serif" font-size="14.6" font-weight="normal" fill="#111" stroke="#111" stroke-width="0.22" text-anchor="start">SHGC</text>
<rect x="46.8" y="13.5" width="2.2" height="12.5" fill="#0070C0"/><polygon points="42.4,14.9 53.4,14.9 47.9,4.2" fill="#0070C0"/><rect x="23.8" y="21.8" width="50.3" height="50.9" fill="#C55A11"/><rect x="30.3" y="72.2" width="36.4" height="105.7" fill="#ADA9A9"/><line x1="66.6" y1="72.2" x2="66.6" y2="177.9" stroke="#6f6a6a" stroke-width="0.8"/><line x1="30.4" y1="72.2" x2="30.4" y2="177.9" stroke="#8f8a8a" stroke-width="0.5"/><rect x="23.8" y="177.4" width="50.2" height="50.4" fill="#C55A11"/><path d="M30.4,72.2 V36.4 H66.5 V72.2" stroke="#222" stroke-width="0.6" stroke-dasharray="1.4,1.2" fill="none"/><path d="M30.4,177.9 V212 H66.5 V177.9" stroke="#222" stroke-width="0.6" stroke-dasharray="1.4,1.2" fill="none"/><ellipse cx="26.9" cy="42.5" rx="1.9" ry="1.8" fill="#000"/><ellipse cx="70.7" cy="42.5" rx="1.9" ry="1.8" fill="#000"/><ellipse cx="26.9" cy="53.1" rx="1.9" ry="1.8" fill="#000"/><ellipse cx="70.7" cy="53.1" rx="1.9" ry="1.8" fill="#000"/><ellipse cx="26.9" cy="64.3" rx="1.9" ry="1.8" fill="#000"/><ellipse cx="70.7" cy="64.3" rx="1.9" ry="1.8" fill="#000"/><ellipse cx="26.9" cy="183.8" rx="1.9" ry="1.8" fill="#000"/><ellipse cx="70.7" cy="183.8" rx="1.9" ry="1.8" fill="#000"/><ellipse cx="26.9" cy="193.8" rx="1.9" ry="1.8" fill="#000"/><ellipse cx="70.7" cy="193.8" rx="1.9" ry="1.8" fill="#000"/><ellipse cx="26.9" cy="205.3" rx="1.9" ry="1.8" fill="#000"/><ellipse cx="70.7" cy="205.3" rx="1.9" ry="1.8" fill="#000"/><rect x="48.9" y="221" width="2.2" height="12.5" fill="#0070C0"/><polygon points="44.5,232.8 55.7,232.8 50.1,243" fill="#0070C0"/><rect x="46.8" y="13.5" width="2.2" height="12.3" fill="#0070C0"/><rect x="46.6" y="109.8" width="5.5" height="26" fill="#FFCC4D"/><line x1="7.999999999999999" y1="35.0" x2="14.399999999999999" y2="35.0" stroke="#000" stroke-width="0.7"/><line x1="7.999999999999999" y1="211.3" x2="14.399999999999999" y2="211.3" stroke="#000" stroke-width="0.7"/><line x1="11.2" y1="38.0" x2="11.2" y2="106" stroke="#000" stroke-width="0.8"/><line x1="11.2" y1="145" x2="11.2" y2="208.3" stroke="#000" stroke-width="0.8"/><polygon points="8.899999999999999,41.2 13.5,41.2 11.2,35.6" fill="#000"/><polygon points="8.899999999999999,205.10000000000002 13.5,205.10000000000002 11.2,210.70000000000002" fill="#000"/><line x1="14.7" y1="72.0" x2="21.099999999999998" y2="72.0" stroke="#000" stroke-width="0.7"/><line x1="14.7" y1="177.4" x2="21.099999999999998" y2="177.4" stroke="#000" stroke-width="0.7"/><line x1="17.9" y1="75.0" x2="17.9" y2="106" stroke="#000" stroke-width="0.8"/><line x1="17.9" y1="145" x2="17.9" y2="174.4" stroke="#000" stroke-width="0.8"/><polygon points="15.599999999999998,78.2 20.2,78.2 17.9,72.6" fill="#000"/><polygon points="15.599999999999998,171.20000000000002 20.2,171.20000000000002 17.9,176.8" fill="#000"/><line x1="33" y1="92.7" x2="64" y2="92.7" stroke="#000" stroke-width="1.1"/><polygon points="30.4,92.7 36.3,90.3 36.3,95.1" fill="#000"/><polygon points="66.6,92.7 60.7,90.3 60.7,95.1" fill="#000"/><line x1="92.2" y1="35.6" x2="79.48" y2="38.30" stroke="#000" stroke-width="0.95"/><polygon points="74.3,39.4 79.48,35.85 80.47,40.54" fill="#000"/><line x1="93.8" y1="201.5" x2="80.47" y2="204.45" stroke="#000" stroke-width="0.95"/><polygon points="75.3,205.6 80.44,202.00 81.48,206.69" fill="#000"/><line x1="75.5" y1="113.5" x2="57.21" y2="121.97" stroke="#000" stroke-width="0.95"/><polygon points="52.4,124.2 56.65,119.58 58.67,123.94" fill="#000"/><text transform="translate(105.5,28.5) scale(1,1.05)" font-family="Liberation Serif" font-size="9.9" font-weight="normal" fill="#111" stroke="#111" stroke-width="0.22" text-anchor="middle">Griping</text><text transform="translate(105.5,39.6) scale(1,1.05)" font-family="Liberation Serif" font-size="9.9" font-weight="normal" fill="#111" stroke="#111" stroke-width="0.22" text-anchor="middle">steel</text><text transform="translate(105.2,50.9) scale(1,1.05)" font-family="Liberation Serif" font-size="9.9" font-weight="normal" fill="#111" stroke="#111" stroke-width="0.22" text-anchor="middle">plates</text><text transform="translate(96.3,188.9) scale(1,1.05)" font-family="Liberation Serif" font-size="9.9" font-weight="normal" fill="#111" stroke="#111" stroke-width="0.22" text-anchor="middle">Griping</text><text transform="translate(96,199.8) scale(1,1.05)" font-family="Liberation Serif" font-size="9.9" font-weight="normal" fill="#111" stroke="#111" stroke-width="0.22" text-anchor="middle">steel</text><text transform="translate(96,211.0) scale(1,1.05)" font-family="Liberation Serif" font-size="9.9" font-weight="normal" fill="#111" stroke="#111" stroke-width="0.22" text-anchor="middle">plates</text><text transform="translate(73.8,112.6) scale(1,1.05)" font-family="Liberation Serif" font-size="9.9" font-weight="normal" fill="#111" stroke="#111" stroke-width="0.22" text-anchor="start">Strain gauge</text><text transform="translate(48.2,84.2) scale(1,1.05)" font-family="Liberation Serif" font-size="9.9" font-weight="normal" fill="#111" stroke="#111" stroke-width="0.22" text-anchor="middle">100 mm</text><text transform="translate(10.0,70.6) rotate(-90) scale(1,1.05)" font-family="Liberation Serif" font-size="10.3" font-weight="normal" fill="#111" stroke="#111" stroke-width="0.22" text-anchor="middle">20 mm</text><text transform="translate(9.4,123.5) rotate(-90) scale(1,1.05)" font-family="Liberation Serif" font-size="9.9" font-weight="normal" fill="#111" stroke="#111" stroke-width="0.22" text-anchor="middle">500 mm</text><text transform="translate(22.3,123.5) rotate(-90) scale(1,1.05)" font-family="Liberation Serif" font-size="9.9" font-weight="normal" fill="#111" stroke="#111" stroke-width="0.22" text-anchor="middle">300 mm</text>
<line x1="371.0" y1="186.70" x2="677.60" y2="186.70" stroke="#e0e0e0" stroke-width="0.8"/><line x1="371.0" y1="170.10" x2="677.60" y2="170.10" stroke="#e0e0e0" stroke-width="0.8"/><line x1="371.0" y1="153.50" x2="677.60" y2="153.50" stroke="#e0e0e0" stroke-width="0.8"/><line x1="371.0" y1="136.90" x2="677.60" y2="136.90" stroke="#e0e0e0" stroke-width="0.8"/><line x1="371.0" y1="120.30" x2="677.60" y2="120.30" stroke="#e0e0e0" stroke-width="0.8"/><line x1="371.0" y1="103.70" x2="677.60" y2="103.70" stroke="#e0e0e0" stroke-width="0.8"/><line x1="371.0" y1="87.10" x2="677.60" y2="87.10" stroke="#e0e0e0" stroke-width="0.8"/><line x1="371.0" y1="70.50" x2="677.60" y2="70.50" stroke="#e0e0e0" stroke-width="0.8"/><line x1="371.0" y1="53.90" x2="677.60" y2="53.90" stroke="#e0e0e0" stroke-width="0.8"/><line x1="371.0" y1="37.30" x2="677.60" y2="37.30" stroke="#e0e0e0" stroke-width="0.8"/><line x1="401.66" y1="37.30" x2="401.66" y2="203.3" stroke="#e0e0e0" stroke-width="0.8"/><line x1="432.32" y1="37.30" x2="432.32" y2="203.3" stroke="#e0e0e0" stroke-width="0.8"/><line x1="462.98" y1="37.30" x2="462.98" y2="203.3" stroke="#e0e0e0" stroke-width="0.8"/><line x1="493.64" y1="37.30" x2="493.64" y2="203.3" stroke="#e0e0e0" stroke-width="0.8"/><line x1="524.30" y1="37.30" x2="524.30" y2="203.3" stroke="#e0e0e0" stroke-width="0.8"/><line x1="554.96" y1="37.30" x2="554.96" y2="203.3" stroke="#e0e0e0" stroke-width="0.8"/><line x1="585.62" y1="37.30" x2="585.62" y2="203.3" stroke="#e0e0e0" stroke-width="0.8"/><line x1="616.28" y1="37.30" x2="616.28" y2="203.3" stroke="#e0e0e0" stroke-width="0.8"/><line x1="646.94" y1="37.30" x2="646.94" y2="203.3" stroke="#e0e0e0" stroke-width="0.8"/><line x1="677.60" y1="37.30" x2="677.60" y2="203.3" stroke="#e0e0e0" stroke-width="0.8"/><rect x="0" y="0" width="74" height="15" fill="#fff" transform="translate(378,88.5) rotate(-30)"/><rect x="0" y="0" width="78" height="19" fill="#fff" transform="translate(473.6,48.6) rotate(30)"/><rect x="545.5" y="59.3" width="64.2" height="56.2" fill="#fff"/><line x1="371.45" y1="37.30" x2="371.45" y2="203.3" stroke="#383838" stroke-width="1.15"/><line x1="368.0" y1="203.3" x2="677.60" y2="203.3" stroke="#404040" stroke-width="1.3"/><line x1="367.8" y1="203.30" x2="371.0" y2="203.30" stroke="#404040" stroke-width="1.1"/><line x1="367.8" y1="186.70" x2="371.0" y2="186.70" stroke="#404040" stroke-width="1.1"/><line x1="367.8" y1="170.10" x2="371.0" y2="170.10" stroke="#404040" stroke-width="1.1"/><line x1="367.8" y1="153.50" x2="371.0" y2="153.50" stroke="#404040" stroke-width="1.1"/><line x1="367.8" y1="136.90" x2="371.0" y2="136.90" stroke="#404040" stroke-width="1.1"/><line x1="367.8" y1="120.30" x2="371.0" y2="120.30" stroke="#404040" stroke-width="1.1"/><line x1="367.8" y1="103.70" x2="371.0" y2="103.70" stroke="#404040" stroke-width="1.1"/><line x1="367.8" y1="87.10" x2="371.0" y2="87.10" stroke="#404040" stroke-width="1.1"/><line x1="367.8" y1="70.50" x2="371.0" y2="70.50" stroke="#404040" stroke-width="1.1"/><line x1="367.8" y1="53.90" x2="371.0" y2="53.90" stroke="#404040" stroke-width="1.1"/><line x1="367.8" y1="37.30" x2="371.0" y2="37.30" stroke="#404040" stroke-width="1.1"/><line x1="401.66" y1="203.3" x2="401.66" y2="206.70000000000002" stroke="#404040" stroke-width="1.1"/><line x1="432.32" y1="203.3" x2="432.32" y2="206.70000000000002" stroke="#404040" stroke-width="1.1"/><line x1="462.98" y1="203.3" x2="462.98" y2="206.70000000000002" stroke="#404040" stroke-width="1.1"/><line x1="493.64" y1="203.3" x2="493.64" y2="206.70000000000002" stroke="#404040" stroke-width="1.1"/><line x1="524.30" y1="203.3" x2="524.30" y2="206.70000000000002" stroke="#404040" stroke-width="1.1"/><line x1="554.96" y1="203.3" x2="554.96" y2="206.70000000000002" stroke="#404040" stroke-width="1.1"/><line x1="585.62" y1="203.3" x2="585.62" y2="206.70000000000002" stroke="#404040" stroke-width="1.1"/><line x1="616.28" y1="203.3" x2="616.28" y2="206.70000000000002" stroke="#404040" stroke-width="1.1"/><line x1="646.94" y1="203.3" x2="646.94" y2="206.70000000000002" stroke="#404040" stroke-width="1.1"/><line x1="677.60" y1="203.3" x2="677.60" y2="206.70000000000002" stroke="#404040" stroke-width="1.1"/><text transform="translate(363.0,206.9) scale(1,1.05)" font-family="Liberation Serif" font-size="8.9" font-weight="normal" fill="#404040" stroke="#404040" stroke-width="0.15" text-anchor="end">0</text><text transform="translate(363.0,190.3) scale(1,1.05)" font-family="Liberation Serif" font-size="8.9" font-weight="normal" fill="#404040" stroke="#404040" stroke-width="0.15" text-anchor="end">1</text><text transform="translate(363.0,173.7) scale(1,1.05)" font-family="Liberation Serif" font-size="8.9" font-weight="normal" fill="#404040" stroke="#404040" stroke-width="0.15" text-anchor="end">2</text><text transform="translate(363.0,157.1) scale(1,1.05)" font-family="Liberation Serif" font-size="8.9" font-weight="normal" fill="#404040" stroke="#404040" stroke-width="0.15" text-anchor="end">3</text><text transform="translate(363.0,140.5) scale(1,1.05)" font-family="Liberation Serif" font-size="8.9" font-weight="normal" fill="#404040" stroke="#404040" stroke-width="0.15" text-anchor="end">4</text><text transform="translate(363.0,123.9) scale(1,1.05)" font-family="Liberation Serif" font-size="8.9" font-weight="normal" fill="#404040" stroke="#404040" stroke-width="0.15" text-anchor="end">5</text><text transform="translate(363.0,107.3) scale(1,1.05)" font-family="Liberation Serif" font-size="8.9" font-weight="normal" fill="#404040" stroke="#404040" stroke-width="0.15" text-anchor="end">6</text><text transform="translate(363.0,90.7) scale(1,1.05)" font-family="Liberation Serif" font-size="8.9" font-weight="normal" fill="#404040" stroke="#404040" stroke-width="0.15" text-anchor="end">7</text><text transform="translate(363.0,74.1) scale(1,1.05)" font-family="Liberation Serif" font-size="8.9" font-weight="normal" fill="#404040" stroke="#404040" stroke-width="0.15" text-anchor="end">8</text><text transform="translate(363.0,57.5) scale(1,1.05)" font-family="Liberation Serif" font-size="8.9" font-weight="normal" fill="#404040" stroke="#404040" stroke-width="0.15" text-anchor="end">9</text><text transform="translate(363.0,40.9) scale(1,1.05)" font-family="Liberation Serif" font-size="8.9" font-weight="normal" fill="#404040" stroke="#404040" stroke-width="0.15" text-anchor="end">10</text><text transform="translate(371.0,218.6) scale(1,1.07)" font-family="Liberation Serif" font-size="8.7" font-weight="normal" fill="#404040" stroke="#404040" stroke-width="0.25" text-anchor="middle">0</text><text transform="translate(401.66,218.6) scale(1,1.07)" font-family="Liberation Serif" font-size="8.7" font-weight="normal" fill="#404040" stroke="#404040" stroke-width="0.25" text-anchor="middle">2</text><text transform="translate(432.32,218.6) scale(1,1.07)" font-family="Liberation Serif" font-size="8.7" font-weight="normal" fill="#404040" stroke="#404040" stroke-width="0.25" text-anchor="middle">4</text><text transform="translate(462.98,218.6) scale(1,1.07)" font-family="Liberation Serif" font-size="8.7" font-weight="normal" fill="#404040" stroke="#404040" stroke-width="0.25" text-anchor="middle">6</text><text transform="translate(493.64,218.6) scale(1,1.07)" font-family="Liberation Serif" font-size="8.7" font-weight="normal" fill="#404040" stroke="#404040" stroke-width="0.25" text-anchor="middle">8</text><text transform="translate(524.3,218.6) scale(1,1.07)" font-family="Liberation Serif" font-size="8.7" font-weight="normal" fill="#404040" stroke="#404040" stroke-width="0.25" text-anchor="middle">10</text><text transform="translate(554.96,218.6) scale(1,1.07)" font-family="Liberation Serif" font-size="8.7" font-weight="normal" fill="#404040" stroke="#404040" stroke-width="0.25" text-anchor="middle">12</text><text transform="translate(585.62,218.6) scale(1,1.07)" font-family="Liberation Serif" font-size="8.7" font-weight="normal" fill="#404040" stroke="#404040" stroke-width="0.25" text-anchor="middle">14</text><text transform="translate(616.28,218.6) scale(1,1.07)" font-family="Liberation Serif" font-size="8.7" font-weight="normal" fill="#404040" stroke="#404040" stroke-width="0.25" text-anchor="middle">16</text><text transform="translate(646.94,218.6) scale(1,1.07)" font-family="Liberation Serif" font-size="8.7" font-weight="normal" fill="#404040" stroke="#404040" stroke-width="0.25" text-anchor="middle">18</text><text transform="translate(677.6,218.6) scale(1,1.07)" font-family="Liberation Serif" font-size="8.7" font-weight="normal" fill="#404040" stroke="#404040" stroke-width="0.25" text-anchor="middle">20</text><text transform="translate(505.2,235.8)" font-family="Liberation Serif" font-size="9.6" font-weight="bold" fill="#222" text-anchor="middle">Strain, %</text><text transform="translate(351.8,129.9) rotate(-90)" font-family="Liberation Serif" font-size="8.4" font-weight="bold" fill="#222" text-anchor="middle">Stree, MPa</text><path d="M371.3,178.0 L371.6,150.0 L372.2,122.5 L377.0,117.5 L382.9,113.3 L386.1,110.5 L390.2,108.0 L395.3,104.9 L400.4,102.3 L405.5,100.3 L409.6,98.3 L414.7,96.2 L420.8,93.7 L426.9,90.6 L430.0,89.0 L435.0,86.9 L441.9,84.5 L447.0,83.2 L452.6,82.5 L456.0,83.2 L460.0,84.9 L464.8,87.1 L469.5,90.7 L473.1,93.7 L476.1,96.7 L479.0,99.0 L481.4,101.4 L483.7,101.1 L485.0,100.8 L486.8,104.4 L489.8,106.8 L493.8,109.0 L497.4,110.2 L500.4,110.2 L501.5,115.0 L502.7,118.0 L505.7,118.0 L511.7,116.8 L514.0,119.2 L515.0,119.9 L517.9,121.8 L520.7,122.3 L524.0,122.8 L527.4,121.3 L530.2,120.9 L534.0,121.8 L537.9,123.2 L541.7,123.2 L545.5,122.3 L548.3,124.2 L551.2,125.6 L554.0,127.5 L556.9,128.0 L560.0,127.5 L561.8,130.4 L567.2,131.1 L572.0,131.8 L574.0,134.0" stroke="#111" stroke-width="1.4" fill="none" stroke-linejoin="round"/><path d="M574,134.0 L621.3,134.0" stroke="#111" stroke-width="1.9" fill="none"/><path d="M371.2,178.0 L371.6,150.0 L372.2,123.5 L373.0,121.0 L374.5,119.8 L377.3,118.2 L381.7,116.2 L384.1,113.6 L390.2,110.5 L395.3,108.0 L400.4,105.4 L405.0,104.5 L407.0,105.6 L410.6,102.3 L416.7,99.3 L418.5,99.8 L422.9,95.2 L428.0,93.3 L434.0,91.8 L439.5,89.3 L446.7,88.6 L452.6,90.2 L455.0,93.8 L456.2,97.4 L460.0,97.9 L462.4,98.5 L465.4,100.8 L469.5,104.4 L473.7,107.4 L477.9,110.4 L480.7,112.0 L483.8,113.9 L487.9,116.8 L489.6,121.0 L491.4,122.7 L493.8,124.5 L497.9,130.7 L501.4,133.6 L506.3,133.6 L510.5,134.8 L514.0,135.7 L515.8,133.8 L525.2,133.8 L534.8,134.2 L549.0,135.1 L563.3,135.7 L575.4,136.5 L580.8,137.6 L584.9,138.2 L594.4,138.6 L602.3,138.5" stroke="#1F3A7A" stroke-width="2.2" fill="none" stroke-linejoin="round"/><path d="M371.2,178 L371.6,150 L372.2,123.5" stroke="#1F3A7A" stroke-width="2.7" fill="none"/><circle cx="372.2" cy="122.5" r="1.3" fill="#fff" stroke="#1a1a1a" stroke-width="0.6"/><circle cx="374.3" cy="120.3" r="1.3" fill="#fff" stroke="#1a1a1a" stroke-width="0.6"/><circle cx="376.4" cy="118.2" r="1.3" fill="#fff" stroke="#1a1a1a" stroke-width="0.6"/><circle cx="378.7" cy="116.3" r="1.3" fill="#fff" stroke="#1a1a1a" stroke-width="0.6"/><circle cx="381.1" cy="114.6" r="1.3" fill="#fff" stroke="#1a1a1a" stroke-width="0.6"/><circle cx="383.5" cy="112.8" r="1.3" fill="#fff" stroke="#1a1a1a" stroke-width="0.6"/><circle cx="385.8" cy="110.8" r="1.3" fill="#fff" stroke="#1a1a1a" stroke-width="0.6"/><circle cx="388.3" cy="109.2" r="1.3" fill="#fff" stroke="#1a1a1a" stroke-width="0.6"/><circle cx="390.9" cy="107.6" r="1.3" fill="#fff" stroke="#1a1a1a" stroke-width="0.6"/><circle cx="393.4" cy="106.0" r="1.3" fill="#fff" stroke="#1a1a1a" stroke-width="0.6"/><circle cx="396.0" cy="104.5" r="1.3" fill="#fff" stroke="#1a1a1a" stroke-width="0.6"/><circle cx="398.7" cy="103.2" r="1.3" fill="#fff" stroke="#1a1a1a" stroke-width="0.6"/><circle cx="401.4" cy="101.9" r="1.3" fill="#fff" stroke="#1a1a1a" stroke-width="0.6"/><circle cx="404.2" cy="100.8" r="1.3" fill="#fff" stroke="#1a1a1a" stroke-width="0.6"/><circle cx="406.9" cy="99.6" r="1.3" fill="#fff" stroke="#1a1a1a" stroke-width="0.6"/><circle cx="409.6" cy="98.3" r="1.3" fill="#fff" stroke="#1a1a1a" stroke-width="0.6"/><circle cx="412.4" cy="97.1" r="1.3" fill="#fff" stroke="#1a1a1a" stroke-width="0.6"/><circle cx="415.2" cy="96.0" r="1.3" fill="#fff" stroke="#1a1a1a" stroke-width="0.6"/><circle cx="418.0" cy="94.9" r="1.3" fill="#fff" stroke="#1a1a1a" stroke-width="0.6"/><circle cx="420.7" cy="93.7" r="1.3" fill="#fff" stroke="#1a1a1a" stroke-width="0.6"/><circle cx="423.4" cy="92.4" r="1.3" fill="#fff" stroke="#1a1a1a" stroke-width="0.6"/><circle cx="426.1" cy="91.0" r="1.3" fill="#fff" stroke="#1a1a1a" stroke-width="0.6"/><circle cx="428.8" cy="89.6" r="1.3" fill="#fff" stroke="#1a1a1a" stroke-width="0.6"/><circle cx="431.5" cy="88.4" r="1.3" fill="#fff" stroke="#1a1a1a" stroke-width="0.6"/><circle cx="434.2" cy="87.2" r="1.3" fill="#fff" stroke="#1a1a1a" stroke-width="0.6"/><circle cx="437.1" cy="86.2" r="1.3" fill="#fff" stroke="#1a1a1a" stroke-width="0.6"/><circle cx="439.9" cy="85.2" r="1.3" fill="#fff" stroke="#1a1a1a" stroke-width="0.6"/><circle cx="442.7" cy="84.3" r="1.3" fill="#fff" stroke="#1a1a1a" stroke-width="0.6"/><circle cx="445.7" cy="83.5" r="1.3" fill="#fff" stroke="#1a1a1a" stroke-width="0.6"/><circle cx="448.6" cy="83.0" r="1.3" fill="#fff" stroke="#1a1a1a" stroke-width="0.6"/><circle cx="451.6" cy="82.6" r="1.3" fill="#fff" stroke="#1a1a1a" stroke-width="0.6"/><circle cx="454.5" cy="82.9" r="1.3" fill="#fff" stroke="#1a1a1a" stroke-width="0.6"/><circle cx="457.4" cy="83.8" r="1.3" fill="#fff" stroke="#1a1a1a" stroke-width="0.6"/><circle cx="460.1" cy="85.0" r="1.3" fill="#fff" stroke="#1a1a1a" stroke-width="0.6"/><circle cx="462.9" cy="86.2" r="1.3" fill="#fff" stroke="#1a1a1a" stroke-width="0.6"/><circle cx="465.5" cy="87.6" r="1.3" fill="#fff" stroke="#1a1a1a" stroke-width="0.6"/><circle cx="467.9" cy="89.5" r="1.3" fill="#fff" stroke="#1a1a1a" stroke-width="0.6"/><circle cx="470.2" cy="91.3" r="1.3" fill="#fff" stroke="#1a1a1a" stroke-width="0.6"/><circle cx="472.5" cy="93.2" r="1.3" fill="#fff" stroke="#1a1a1a" stroke-width="0.6"/><circle cx="474.7" cy="95.3" r="1.3" fill="#fff" stroke="#1a1a1a" stroke-width="0.6"/><circle cx="476.9" cy="97.3" r="1.3" fill="#fff" stroke="#1a1a1a" stroke-width="0.6"/><circle cx="479.2" cy="99.2" r="1.3" fill="#fff" stroke="#1a1a1a" stroke-width="0.6"/><circle cx="515.2" cy="120.0" r="1.3" fill="#fff" stroke="#1a1a1a" stroke-width="0.6"/><circle cx="517.7" cy="121.7" r="1.3" fill="#fff" stroke="#1a1a1a" stroke-width="0.6"/><circle cx="520.6" cy="122.3" r="1.3" fill="#fff" stroke="#1a1a1a" stroke-width="0.6"/><circle cx="523.6" cy="122.7" r="1.3" fill="#fff" stroke="#1a1a1a" stroke-width="0.6"/><circle cx="526.4" cy="121.8" r="1.3" fill="#fff" stroke="#1a1a1a" stroke-width="0.6"/><circle cx="529.2" cy="121.0" r="1.3" fill="#fff" stroke="#1a1a1a" stroke-width="0.6"/><circle cx="532.2" cy="121.4" r="1.3" fill="#fff" stroke="#1a1a1a" stroke-width="0.6"/><circle cx="535.1" cy="122.2" r="1.3" fill="#fff" stroke="#1a1a1a" stroke-width="0.6"/><circle cx="537.9" cy="123.2" r="1.3" fill="#fff" stroke="#1a1a1a" stroke-width="0.6"/><circle cx="540.9" cy="123.2" r="1.3" fill="#fff" stroke="#1a1a1a" stroke-width="0.6"/><circle cx="543.8" cy="122.7" r="1.3" fill="#fff" stroke="#1a1a1a" stroke-width="0.6"/><circle cx="546.6" cy="123.0" r="1.3" fill="#fff" stroke="#1a1a1a" stroke-width="0.6"/><circle cx="549.1" cy="124.6" r="1.3" fill="#fff" stroke="#1a1a1a" stroke-width="0.6"/><circle cx="551.8" cy="126.0" r="1.3" fill="#fff" stroke="#1a1a1a" stroke-width="0.6"/><circle cx="554.3" cy="127.5" r="1.3" fill="#fff" stroke="#1a1a1a" stroke-width="0.6"/><circle cx="557.2" cy="127.9" r="1.3" fill="#fff" stroke="#1a1a1a" stroke-width="0.6"/><circle cx="560.1" cy="127.7" r="1.3" fill="#fff" stroke="#1a1a1a" stroke-width="0.6"/><circle cx="561.7" cy="130.2" r="1.3" fill="#fff" stroke="#1a1a1a" stroke-width="0.6"/><circle cx="564.6" cy="130.8" r="1.3" fill="#fff" stroke="#1a1a1a" stroke-width="0.6"/><circle cx="567.5" cy="131.2" r="1.3" fill="#fff" stroke="#1a1a1a" stroke-width="0.6"/><circle cx="570.5" cy="131.6" r="1.3" fill="#fff" stroke="#1a1a1a" stroke-width="0.6"/><circle cx="573.0" cy="132.9" r="1.3" fill="#fff" stroke="#1a1a1a" stroke-width="0.6"/><circle cx="481.4" cy="101.4" r="1.3" fill="#fff" stroke="#1a1a1a" stroke-width="0.6"/><circle cx="485.0" cy="100.8" r="1.3" fill="#fff" stroke="#1a1a1a" stroke-width="0.6"/><circle cx="486.8" cy="104.4" r="1.3" fill="#fff" stroke="#1a1a1a" stroke-width="0.6"/><circle cx="489.8" cy="106.8" r="1.3" fill="#fff" stroke="#1a1a1a" stroke-width="0.6"/><circle cx="493.8" cy="109.0" r="1.3" fill="#fff" stroke="#1a1a1a" stroke-width="0.6"/><circle cx="497.4" cy="110.2" r="1.3" fill="#fff" stroke="#1a1a1a" stroke-width="0.6"/><circle cx="500.4" cy="110.2" r="1.3" fill="#fff" stroke="#1a1a1a" stroke-width="0.6"/><circle cx="502.7" cy="118.0" r="1.3" fill="#fff" stroke="#1a1a1a" stroke-width="0.6"/><circle cx="511.7" cy="116.8" r="1.3" fill="#fff" stroke="#1a1a1a" stroke-width="0.6"/><rect x="620" y="132.7" width="2.6" height="2.6" fill="#fff" stroke="#222" stroke-width="0.5"/><circle cx="372.2" cy="123.5" r="1.3" fill="#CDAA3A" stroke="#4a4020" stroke-width="0.4"/><circle cx="373.8" cy="120.3" r="1.3" fill="#CDAA3A" stroke="#4a4020" stroke-width="0.4"/><circle cx="377.0" cy="118.4" r="1.3" fill="#CDAA3A" stroke="#4a4020" stroke-width="0.4"/><circle cx="380.3" cy="116.8" r="1.3" fill="#CDAA3A" stroke="#4a4020" stroke-width="0.4"/><circle cx="383.2" cy="114.6" r="1.3" fill="#CDAA3A" stroke="#4a4020" stroke-width="0.4"/><circle cx="386.2" cy="112.5" r="1.3" fill="#CDAA3A" stroke="#4a4020" stroke-width="0.4"/><circle cx="389.5" cy="110.9" r="1.3" fill="#CDAA3A" stroke="#4a4020" stroke-width="0.4"/><circle cx="392.8" cy="109.2" r="1.3" fill="#CDAA3A" stroke="#4a4020" stroke-width="0.4"/><circle cx="396.1" cy="107.6" r="1.3" fill="#CDAA3A" stroke="#4a4020" stroke-width="0.4"/><circle cx="399.4" cy="105.9" r="1.3" fill="#CDAA3A" stroke="#4a4020" stroke-width="0.4"/><circle cx="403.0" cy="104.9" r="1.3" fill="#CDAA3A" stroke="#4a4020" stroke-width="0.4"/><circle cx="406.4" cy="105.3" r="1.3" fill="#CDAA3A" stroke="#4a4020" stroke-width="0.4"/><circle cx="409.2" cy="103.5" r="1.3" fill="#CDAA3A" stroke="#4a4020" stroke-width="0.4"/><circle cx="412.3" cy="101.5" r="1.3" fill="#CDAA3A" stroke="#4a4020" stroke-width="0.4"/><circle cx="415.6" cy="99.8" r="1.3" fill="#CDAA3A" stroke="#4a4020" stroke-width="0.4"/><circle cx="418.9" cy="99.4" r="1.3" fill="#CDAA3A" stroke="#4a4020" stroke-width="0.4"/><circle cx="421.5" cy="96.7" r="1.3" fill="#CDAA3A" stroke="#4a4020" stroke-width="0.4"/><circle cx="424.4" cy="94.6" r="1.3" fill="#CDAA3A" stroke="#4a4020" stroke-width="0.4"/><circle cx="427.9" cy="93.3" r="1.3" fill="#CDAA3A" stroke="#4a4020" stroke-width="0.4"/><circle cx="431.5" cy="92.4" r="1.3" fill="#CDAA3A" stroke="#4a4020" stroke-width="0.4"/><circle cx="435.0" cy="91.3" r="1.3" fill="#CDAA3A" stroke="#4a4020" stroke-width="0.4"/><circle cx="438.4" cy="89.8" r="1.3" fill="#CDAA3A" stroke="#4a4020" stroke-width="0.4"/><circle cx="441.9" cy="89.1" r="1.3" fill="#CDAA3A" stroke="#4a4020" stroke-width="0.4"/><circle cx="445.6" cy="88.7" r="1.3" fill="#CDAA3A" stroke="#4a4020" stroke-width="0.4"/><circle cx="449.2" cy="89.3" r="1.3" fill="#CDAA3A" stroke="#4a4020" stroke-width="0.4"/><circle cx="452.7" cy="90.4" r="1.3" fill="#CDAA3A" stroke="#4a4020" stroke-width="0.4"/><circle cx="454.8" cy="93.5" r="1.3" fill="#CDAA3A" stroke="#4a4020" stroke-width="0.4"/><circle cx="456.0" cy="96.9" r="1.3" fill="#CDAA3A" stroke="#4a4020" stroke-width="0.4"/><circle cx="459.4" cy="97.8" r="1.3" fill="#CDAA3A" stroke="#4a4020" stroke-width="0.4"/><circle cx="462.9" cy="98.9" r="1.3" fill="#CDAA3A" stroke="#4a4020" stroke-width="0.4"/><circle cx="465.8" cy="101.1" r="1.3" fill="#CDAA3A" stroke="#4a4020" stroke-width="0.4"/><circle cx="468.6" cy="103.6" r="1.3" fill="#CDAA3A" stroke="#4a4020" stroke-width="0.4"/><circle cx="471.5" cy="105.8" r="1.3" fill="#CDAA3A" stroke="#4a4020" stroke-width="0.4"/><circle cx="474.5" cy="108.0" r="1.3" fill="#CDAA3A" stroke="#4a4020" stroke-width="0.4"/><circle cx="477.5" cy="110.1" r="1.3" fill="#CDAA3A" stroke="#4a4020" stroke-width="0.4"/><circle cx="480.7" cy="112.0" r="1.3" fill="#CDAA3A" stroke="#4a4020" stroke-width="0.4"/><circle cx="483.9" cy="113.9" r="1.3" fill="#CDAA3A" stroke="#4a4020" stroke-width="0.4"/><circle cx="486.9" cy="116.1" r="1.3" fill="#CDAA3A" stroke="#4a4020" stroke-width="0.4"/><circle cx="488.8" cy="119.1" r="1.3" fill="#CDAA3A" stroke="#4a4020" stroke-width="0.4"/><circle cx="490.8" cy="122.1" r="1.3" fill="#CDAA3A" stroke="#4a4020" stroke-width="0.4"/><circle cx="493.7" cy="124.4" r="1.3" fill="#CDAA3A" stroke="#4a4020" stroke-width="0.4"/><circle cx="495.7" cy="127.4" r="1.3" fill="#CDAA3A" stroke="#4a4020" stroke-width="0.4"/><circle cx="497.8" cy="130.5" r="1.3" fill="#CDAA3A" stroke="#4a4020" stroke-width="0.4"/><circle cx="500.6" cy="132.9" r="1.3" fill="#CDAA3A" stroke="#4a4020" stroke-width="0.4"/><circle cx="504.1" cy="133.6" r="1.3" fill="#CDAA3A" stroke="#4a4020" stroke-width="0.4"/><circle cx="507.7" cy="134.0" r="1.3" fill="#CDAA3A" stroke="#4a4020" stroke-width="0.4"/><circle cx="511.3" cy="135.0" r="1.3" fill="#CDAA3A" stroke="#4a4020" stroke-width="0.4"/><circle cx="514.6" cy="135.1" r="1.3" fill="#CDAA3A" stroke="#4a4020" stroke-width="0.4"/><circle cx="517.8" cy="133.8" r="1.3" fill="#CDAA3A" stroke="#4a4020" stroke-width="0.4"/><circle cx="521.5" cy="133.8" r="1.3" fill="#CDAA3A" stroke="#4a4020" stroke-width="0.4"/><circle cx="525.2" cy="133.8" r="1.3" fill="#CDAA3A" stroke="#4a4020" stroke-width="0.4"/><circle cx="528.9" cy="134.0" r="1.3" fill="#CDAA3A" stroke="#4a4020" stroke-width="0.4"/><circle cx="532.5" cy="134.1" r="1.3" fill="#CDAA3A" stroke="#4a4020" stroke-width="0.4"/><circle cx="536.2" cy="134.3" r="1.3" fill="#CDAA3A" stroke="#4a4020" stroke-width="0.4"/><circle cx="539.9" cy="134.5" r="1.3" fill="#CDAA3A" stroke="#4a4020" stroke-width="0.4"/><circle cx="543.6" cy="134.8" r="1.3" fill="#CDAA3A" stroke="#4a4020" stroke-width="0.4"/><circle cx="547.3" cy="135.0" r="1.3" fill="#CDAA3A" stroke="#4a4020" stroke-width="0.4"/><circle cx="551.0" cy="135.2" r="1.3" fill="#CDAA3A" stroke="#4a4020" stroke-width="0.4"/><circle cx="554.7" cy="135.3" r="1.3" fill="#CDAA3A" stroke="#4a4020" stroke-width="0.4"/><circle cx="558.4" cy="135.5" r="1.3" fill="#CDAA3A" stroke="#4a4020" stroke-width="0.4"/><circle cx="562.1" cy="135.6" r="1.3" fill="#CDAA3A" stroke="#4a4020" stroke-width="0.4"/><circle cx="565.8" cy="135.9" r="1.3" fill="#CDAA3A" stroke="#4a4020" stroke-width="0.4"/><circle cx="569.5" cy="136.1" r="1.3" fill="#CDAA3A" stroke="#4a4020" stroke-width="0.4"/><circle cx="573.2" cy="136.4" r="1.3" fill="#CDAA3A" stroke="#4a4020" stroke-width="0.4"/><circle cx="580.8" cy="137.6" r="1.3" fill="#CDAA3A" stroke="#4a4020" stroke-width="0.4"/><circle cx="584.9" cy="138.2" r="1.3" fill="#CDAA3A" stroke="#4a4020" stroke-width="0.4"/><circle cx="602.3" cy="138.5" r="1.8" fill="#C8A63A" stroke="#3a3520" stroke-width="0.45"/><circle cx="372.3" cy="124" r="0.9" fill="#CDAA3A" opacity="0.35"/><circle cx="372.2" cy="128" r="0.9" fill="#CDAA3A" opacity="0.35"/><circle cx="372.1" cy="132" r="0.9" fill="#CDAA3A" opacity="0.35"/><circle cx="372.1" cy="136" r="0.9" fill="#CDAA3A" opacity="0.35"/><circle cx="372.0" cy="140" r="0.9" fill="#CDAA3A" opacity="0.35"/><circle cx="371.9" cy="144" r="0.9" fill="#CDAA3A" opacity="0.35"/><circle cx="371.8" cy="148" r="0.9" fill="#CDAA3A" opacity="0.35"/><circle cx="371.8" cy="152" r="0.9" fill="#CDAA3A" opacity="0.35"/><circle cx="371.7" cy="156" r="0.9" fill="#CDAA3A" opacity="0.35"/><circle cx="371.6" cy="160" r="0.9" fill="#CDAA3A" opacity="0.35"/><circle cx="371.6" cy="164" r="0.9" fill="#CDAA3A" opacity="0.35"/><circle cx="371.5" cy="168" r="0.9" fill="#CDAA3A" opacity="0.35"/><circle cx="371.4" cy="172" r="0.9" fill="#CDAA3A" opacity="0.35"/><path d="M371.2,203.3 L371.3,142.5 L377.1,168.4" stroke="#ee1111" stroke-width="1.35" fill="none" stroke-linejoin="round"/><line x1="375.2" y1="105.5" x2="443.99" y2="70.92" stroke="#000" stroke-width="1.6"/><polygon points="449.8,68.0 444.81,74.76 441.39,67.97" fill="#000"/><line x1="465.5" y1="72.6" x2="533.15" y2="111.18" stroke="#000" stroke-width="1.6"/><polygon points="538.8,114.4 530.40,113.99 534.17,107.38" fill="#000"/><text transform="translate(384.3,95.5) rotate(-30.5)" font-family="Liberation Serif" font-size="10.2" font-weight="normal" fill="#222" stroke="#222" stroke-width="0.12" text-anchor="start">Strain hardening</text><text transform="translate(471.0,62.3) rotate(30)" font-family="Liberation Serif" font-size="11.0" font-weight="normal" fill="#222" stroke="#222" stroke-width="0.12" text-anchor="start">Strain softening</text><line x1="558.2" y1="68.8" x2="570.3" y2="68.8" stroke="#111" stroke-width="1.8"/><circle cx="564.3" cy="68.8" r="1.2" fill="#fff" stroke="#222" stroke-width="0.5"/><line x1="558.2" y1="86.6" x2="570.3" y2="86.6" stroke="#1F3A7A" stroke-width="1.9"/><circle cx="564.3" cy="86.6" r="1.2" fill="#C8A63A" stroke="#3a3520" stroke-width="0.45"/><line x1="558.2" y1="104.5" x2="570.3" y2="104.5" stroke="#ee1111" stroke-width="1.7"/><text transform="translate(570.3,71.3)" font-family="Liberation Serif" font-size="8.9" font-weight="normal" fill="#222" stroke="#222" stroke-width="0.15" text-anchor="start">SHGC</text><text transform="translate(570.3,89.1)" font-family="Liberation Serif" font-size="8.9" font-weight="normal" fill="#222" stroke="#222" stroke-width="0.15" text-anchor="start">SHCC</text><text transform="translate(570.3,107.1)" font-family="Liberation Serif" font-size="8.9" font-weight="normal" fill="#222" stroke="#222" stroke-width="0.15" text-anchor="start">OM</text>
<text transform="translate(20.6,267.1) scale(1,1.07)" font-family="Liberation Serif" font-size="13.5" font-weight="normal" fill="#111" stroke="#111" stroke-width="0.12" text-anchor="start">(a)</text><text transform="translate(45.3,267.1) scale(1,1.07)" font-family="Liberation Serif" font-size="13.5" font-weight="normal" fill="#111" stroke="#111" stroke-width="0.12" text-anchor="start">specimen</text><text transform="translate(38.8,290.1) scale(1,1.07)" font-family="Liberation Serif" font-size="13.5" font-weight="normal" fill="#111" stroke="#111" stroke-width="0.12" text-anchor="start">Dimensions</text><text transform="translate(120.6,267.1) scale(1,1.07)" font-family="Liberation Serif" font-size="13.5" font-weight="normal" fill="#111" stroke="#111" stroke-width="0.12" text-anchor="start">(b)</text><text transform="translate(151.8,267.1) scale(1,1.07)" font-family="Liberation Serif" font-size="13.5" font-weight="normal" fill="#111" stroke="#111" stroke-width="0.12" text-anchor="start" textLength="183.4" lengthAdjust="spacing">Samples of the final crack pattern</text><text transform="translate(130.2,290.1) scale(1,1.07)" font-family="Liberation Serif" font-size="13.5" font-weight="normal" fill="#111" stroke="#111" stroke-width="0.12" text-anchor="start" textLength="202" lengthAdjust="spacing">of OM, SHCC and SHGC specimens</text><text transform="translate(371.9,267.1) scale(1,1.07)" font-family="Liberation Serif" font-size="13.5" font-weight="normal" fill="#111" stroke="#111" stroke-width="0.12" text-anchor="start" textLength="279.8" lengthAdjust="spacing">(c) Samples of the tensile stress-strain relationships</text>
</svg>
</body></html>
